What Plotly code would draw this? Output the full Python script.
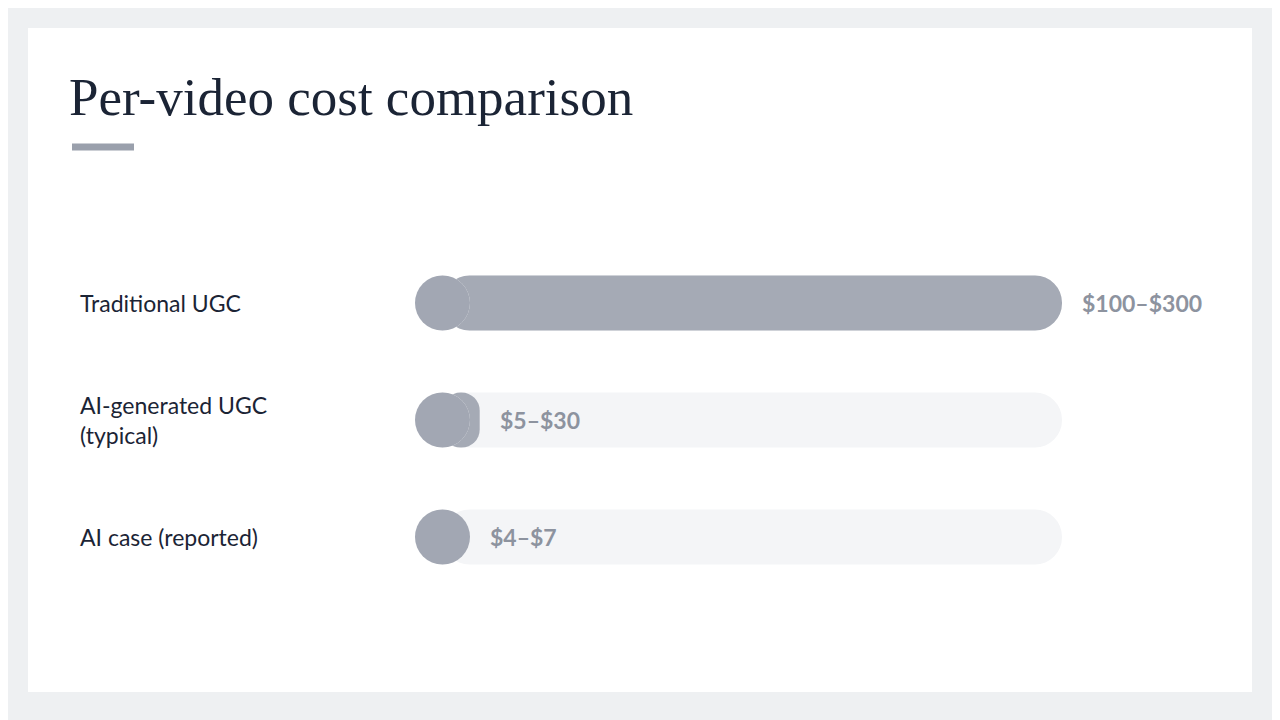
import plotly.graph_objects as go

categories = ["Traditional UGC", "AI-generated UGC<br>(typical)", "AI case (reported)"]
upper_cost = [300, 30, 7]
range_labels = ["$100–$300", "$5–$30", "$4–$7"]

W, H = 1280, 720
OFF = 8  # page body margin shifts the plot
def px(x): return (x - OFF) / W
def py(y): return 1 - (y - OFF) / H

track_max = max(upper_cost)
x0p, x1p = 415, 1062
r = track_max * 27.5 / (x1p - x0p)  # cap radius in data units
ys = [0, 1, 2]

fig = go.Figure()
# track
fig.add_trace(go.Bar(x=[track_max - r] * 3, base=[r] * 3, y=ys, orientation="h", width=0.47,
                     marker=dict(color="#f4f5f7", cornerradius=28, line_width=0), hoverinfo="skip"))
fig.add_trace(go.Scatter(x=[r] * 3, y=ys, mode="markers", hoverinfo="skip",
                         marker=dict(size=55, color="#f4f5f7", line_width=0)))
# fill
big = [i for i, v in zip(ys, upper_cost) if v > 2 * r]
fig.add_trace(go.Bar(x=[upper_cost[i] - r for i in big], base=[r] * len(big), y=big,
                     orientation="h", width=0.47, hoverinfo="skip",
                     marker=dict(color="#a5aab5", cornerradius=28, line_width=0)))
fig.add_trace(go.Scatter(x=[r] * 3, y=ys, mode="markers", hoverinfo="skip",
                         marker=dict(size=55, color="#a2a7b3", line_width=0)))

fig.add_shape(type="rect", xref="paper", yref="paper", layer="below",
              x0=px(28), x1=px(1252), y0=py(692), y1=py(28),
              fillcolor="white", line_width=0)
fig.add_shape(type="line", xref="paper", yref="paper", x0=px(72), x1=px(134),
              y0=py(147), y1=py(147), line=dict(color="#9aa0ac", width=7))
fig.add_annotation(text="Per-video cost comparison", xref="paper", yref="paper",
                   x=px(67), y=py(97), xanchor="left", yanchor="middle", showarrow=False,
                   font=dict(family="Liberation Serif", size=53, color="#1b2435"))

for y, cat, v, lab in zip(ys, categories, upper_cost, range_labels):
    fig.add_annotation(text=cat, xref="paper", yref="y", x=px(78), y=y, xanchor="left",
                       align="left", showarrow=False,
                       font=dict(family="Lato", size=23, color="#1b2435"))
    fig.add_annotation(text="<b>%s</b>" % lab, x=max(v, 2 * r), y=y, xanchor="left",
                       showarrow=False, xshift=18,
                       font=dict(family="Lato", size=23, color="#8d939f"))

fig.update_layout(
    width=W, height=H, margin=dict(l=0, r=0, t=0, b=0),
    paper_bgcolor="#eef0f2", plot_bgcolor="rgba(0,0,0,0)",
    barmode="overlay", showlegend=False,
    xaxis=dict(domain=[px(x0p), px(x1p)], range=[0, track_max], visible=False),
    yaxis=dict(domain=[py(654), py(186)], range=[3, -1], visible=False),
)
fig.write_html("out.html")
